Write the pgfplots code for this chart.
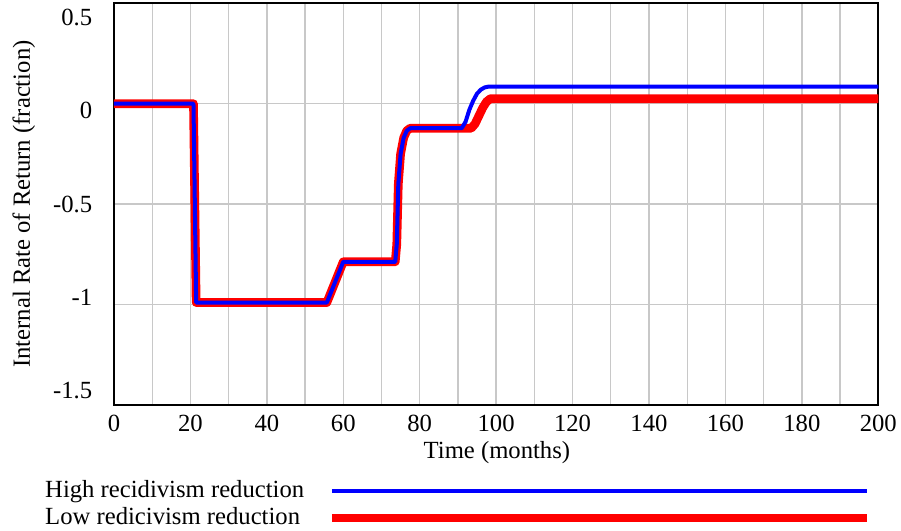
\documentclass[border=0pt]{standalone}
\usepackage{fontspec}
\setmainfont{Liberation Serif}
\usepackage{pgfplots}
\pgfplotsset{compat=1.18}
\definecolor{vblue}{RGB}{0,0,255}
\definecolor{vred}{RGB}{255,0,0}
\definecolor{vgrid}{RGB}{200,200,200}
\begin{document}
\fontsize{18.5pt}{22pt}\selectfont
\begin{tikzpicture}
\useasboundingbox (-85.5pt,-94.5pt) rectangle (590.25pt,303.75pt);
\begin{axis}[
  scale only axis,
  width=573.2pt, height=301.3pt,
  xmin=0, xmax=200, ymin=-1.5, ymax=0.5,
  xtick={0,20,...,200},
  minor xtick={10,30,...,190},
  ytick={0.43,-0.035,-0.5,-0.965,-1.43},
  yticklabels={0.5,0,-0.5,-1,-1.5},
  minor ytick={-1.5,-1,...,0.5},
  xmajorgrids, xminorgrids, yminorgrids,
  major tick length=0pt, minor tick length=0pt,
  grid style={vgrid, line width=1pt},
  minor grid style={vgrid, line width=1pt},
  axis line style={line width=1.6pt, black},
  /pgf/number format/assume math mode=true,
  tick label style={font=\rmfamily\fontsize{18.5pt}{22pt}\selectfont},
  yticklabel style={xshift=-10pt},
  xticklabel style={yshift=-1.5pt},
  xlabel={Time (months)},
  ylabel={Internal Rate of Return (fraction)},
  xlabel style={at={(axis description cs:0.501,-0.119)}, anchor=center},
  ylabel style={at={(axis description cs:-0.118,0.5)}, anchor=center, rotate=0},
  label style={font=\rmfamily\fontsize{18.5pt}{22pt}\selectfont},
  legend plot pos=right,
  legend cell align=left,
  legend image code/.code={\draw[#1] (0pt,0pt) -- (401.5pt,0pt);},
  legend style={at={(axis description cs:-0.0938,-0.180)}, anchor=north west,
    draw=none, fill=none, inner sep=0pt, row sep=1pt,
    nodes={inner sep=2pt},
    /tikz/every odd column/.append style={column sep=15.5pt},
    font=\rmfamily\fontsize{18.5pt}{22pt}\selectfont},
  reverse legend,
]
\addplot[vred, line width=6.5pt, line join=round, line cap=butt] coordinates {
(0,0.0) (20.8,0.0) (21.5,-0.99) (55.7,-0.99) (60.0,-0.787) (73.6,-0.787)
(74.0,-0.70) (74.4,-0.40) (75.0,-0.25) (75.8,-0.17) (76.6,-0.135) (77.5,-0.122)
(93.5,-0.122) (94.5,-0.10) (95.5,-0.06) (96.5,-0.02) (97.5,0.01) (98.5,0.025) (200,0.025)
};
\addlegendentry{Low redicivism reduction}
\addplot[vblue, line width=3pt, line join=round, line cap=butt] coordinates {
(0,0.0) (20.8,0.0) (21.5,-0.99) (55.7,-0.99) (60.0,-0.787) (73.6,-0.787)
(74.0,-0.70) (74.4,-0.40) (75.0,-0.25) (75.8,-0.17) (76.6,-0.135) (77.5,-0.122)
(91.0,-0.122) (92.0,-0.09) (93.0,-0.03) (94.0,0.015) (95.0,0.05) (96.0,0.07) (97.0,0.081) (98.0,0.085) (200,0.085)
};
\addlegendentry{High recidivism reduction}
\end{axis}
\end{tikzpicture}
\end{document}
